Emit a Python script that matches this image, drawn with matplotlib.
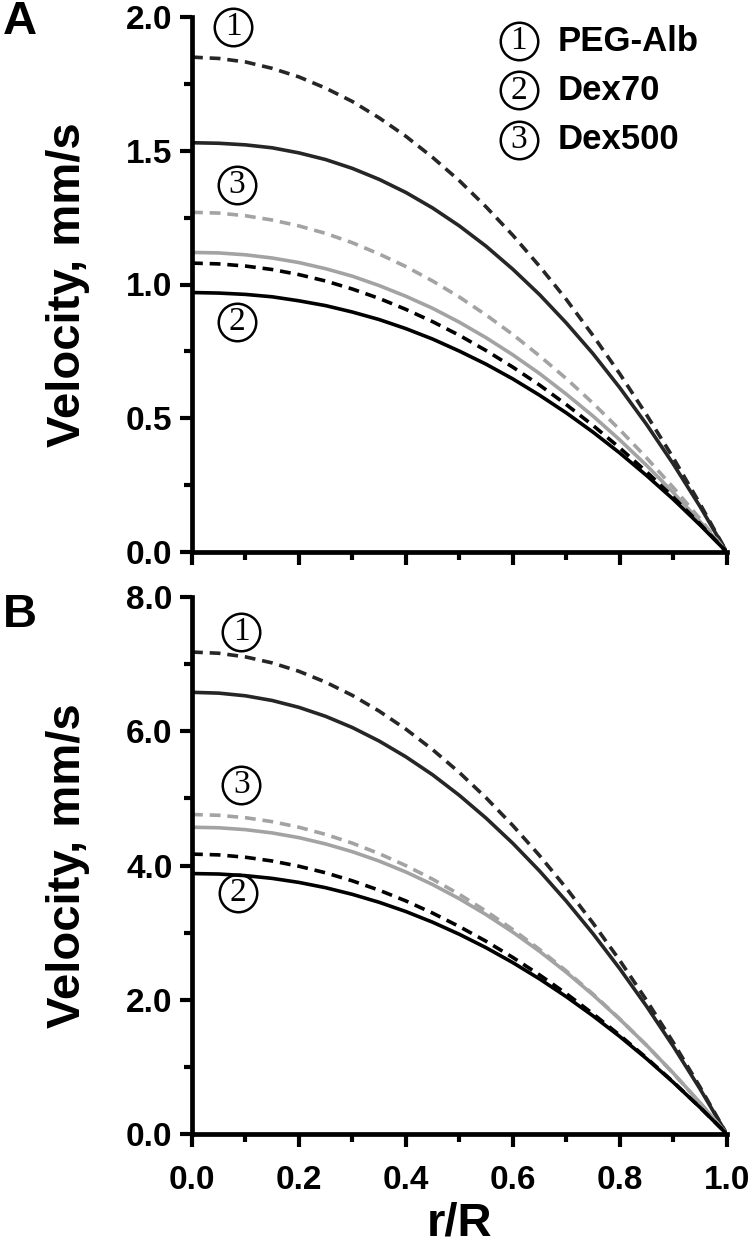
import matplotlib
matplotlib.use("Agg")
import matplotlib.pyplot as plt
from matplotlib.ticker import MultipleLocator, FormatStrFormatter

plt.rcParams['font.family'] = ['Liberation Sans', 'DejaVu Sans']
plt.rcParams['font.weight'] = 'bold'

r = [0.0, 0.05, 0.1, 0.15, 0.2, 0.25, 0.3, 0.35, 0.4, 0.45, 0.5,
     0.55, 0.6, 0.65, 0.7, 0.75, 0.8, 0.85, 0.9, 0.95, 1.0]

# panel A (mm/s)
a_peg_dash = [1.850, 1.845, 1.832, 1.808, 1.776, 1.734, 1.684, 1.623, 1.554, 1.475, 1.388,
              1.290, 1.184, 1.068, 0.944, 0.809, 0.666, 0.513, 0.352, 0.180, 0.0]
a_peg_solid = [1.530, 1.528, 1.522, 1.511, 1.492, 1.467, 1.434, 1.393, 1.344, 1.286, 1.219,
               1.143, 1.057, 0.962, 0.856, 0.741, 0.614, 0.477, 0.329, 0.170, 0.0]
a_d500_dash = [1.270, 1.267, 1.257, 1.241, 1.219, 1.191, 1.156, 1.114, 1.067, 1.013, 0.953,
               0.886, 0.813, 0.733, 0.648, 0.556, 0.457, 0.352, 0.241, 0.124, 0.0]
a_d500_solid = [1.120, 1.118, 1.111, 1.099, 1.082, 1.059, 1.031, 0.996, 0.956, 0.911, 0.859,
                0.801, 0.737, 0.667, 0.590, 0.508, 0.419, 0.324, 0.222, 0.114, 0.0]
a_d70_dash = [1.080, 1.077, 1.069, 1.056, 1.037, 1.013, 0.983, 0.948, 0.907, 0.861, 0.810,
              0.753, 0.691, 0.624, 0.551, 0.473, 0.389, 0.300, 0.205, 0.105, 0.0]
a_d70_solid = [0.970, 0.968, 0.963, 0.954, 0.939, 0.921, 0.897, 0.869, 0.835, 0.796, 0.751,
               0.702, 0.647, 0.586, 0.520, 0.448, 0.370, 0.286, 0.197, 0.101, 0.0]

# panel B (mm/s)
b_peg_dash = [7.180, 7.162, 7.108, 7.018, 6.893, 6.731, 6.534, 6.300, 6.031, 5.726, 5.385,
              5.008, 4.595, 4.147, 3.662, 3.141, 2.585, 1.992, 1.364, 0.700, 0.0]
b_peg_solid = [6.580, 6.568, 6.528, 6.458, 6.356, 6.222, 6.055, 5.854, 5.619, 5.351, 5.045,
               4.705, 4.330, 3.918, 3.468, 2.983, 2.462, 1.903, 1.306, 0.672, 0.0]
b_d500_dash = [4.760, 4.748, 4.712, 4.653, 4.570, 4.463, 4.332, 4.177, 3.998, 3.796, 3.570,
               3.320, 3.046, 2.749, 2.428, 2.083, 1.714, 1.321, 0.904, 0.464, 0.0]
b_d500_solid = [4.570, 4.562, 4.534, 4.485, 4.415, 4.321, 4.205, 4.066, 3.903, 3.716, 3.504,
                3.268, 3.007, 2.721, 2.409, 2.072, 1.710, 1.322, 0.907, 0.467, 0.0]
b_d70_dash = [4.170, 4.158, 4.123, 4.067, 3.989, 3.891, 3.771, 3.632, 3.472, 3.291, 3.090,
              2.871, 2.630, 2.370, 2.091, 1.790, 1.471, 1.133, 0.775, 0.397, 0.0]
b_d70_solid = [3.880, 3.873, 3.849, 3.808, 3.748, 3.669, 3.570, 3.452, 3.314, 3.155, 2.975,
               2.775, 2.553, 2.310, 2.045, 1.759, 1.452, 1.122, 0.770, 0.396, 0.0]

legend_nums = ['1', '2', '3']
legend_names = ['PEG-Alb', 'Dex70', 'Dex500']

DARK = '#262626'
GRAY = '#a3a3a3'
LW = 2.6

fig = plt.figure(figsize=(7.5, 12.5), dpi=100)
axA = fig.add_axes([0.256, 0.5584, 0.713, 0.428])
axB = fig.add_axes([0.256, 0.0928, 0.713, 0.4296])


def circled(ax, x, y, num, transform=None):
    # circled number like ①: hollow circle + serif digit
    tr = transform if transform is not None else ax.transData
    ax.plot([x], [y], marker='o', ms=27, mfc='none', mec='black', mew=1.8,
            transform=tr, clip_on=False)
    ax.text(x, y, num, transform=tr, fontsize=24, family='Liberation Serif',
            fontweight='normal', ha='center', va='center')


def draw(ax, curves):
    for y, c, ls in curves:
        line, = ax.plot(r, y, color=c, lw=LW, solid_capstyle='butt')
        if ls == 'dash':
            line.set_dashes((3.0, 1.9))
    ax.spines['top'].set_visible(False)
    ax.spines['right'].set_visible(False)
    for s in ('left', 'bottom'):
        ax.spines[s].set_linewidth(3.4)
    ax.set_xlim(0, 1.0)
    ax.xaxis.set_major_locator(MultipleLocator(0.2))
    ax.xaxis.set_minor_locator(MultipleLocator(0.1))
    ax.xaxis.set_major_formatter(FormatStrFormatter('%.1f'))
    ax.yaxis.set_major_formatter(FormatStrFormatter('%.1f'))
    ax.tick_params(which='major', length=9, width=3.0, labelsize=24, pad=5)
    ax.tick_params(which='minor', length=6, width=3.0)
    ax.tick_params(axis='x', which='major', pad=13)
    ax.set_ylabel('Velocity, mm/s', fontsize=34, fontweight='bold', labelpad=26)


draw(axA, [(a_peg_solid, DARK, 'solid'), (a_peg_dash, DARK, 'dash'),
           (a_d500_dash, GRAY, 'dash'), (a_d500_solid, GRAY, 'solid'),
           (a_d70_dash, 'black', 'dash'), (a_d70_solid, 'black', 'solid')])
axA.set_ylim(0, 2.0)
axA.yaxis.set_major_locator(MultipleLocator(0.5))
axA.yaxis.set_minor_locator(MultipleLocator(0.25))
axA.tick_params(axis='x', labelbottom=False)

draw(axB, [(b_peg_solid, DARK, 'solid'), (b_peg_dash, DARK, 'dash'),
           (b_d500_dash, GRAY, 'dash'), (b_d500_solid, GRAY, 'solid'),
           (b_d70_dash, 'black', 'dash'), (b_d70_solid, 'black', 'solid')])
axB.set_ylim(0, 8.0)
axB.yaxis.set_major_locator(MultipleLocator(2.0))
axB.yaxis.set_minor_locator(MultipleLocator(1.0))
axB.set_xlabel('r/R', fontsize=34, fontweight='bold', labelpad=4)

for ax in (axA, axB):
    for lab in ax.get_xticklabels() + ax.get_yticklabels():
        lab.set_fontweight('bold')

# curve numbers
for ax, pts in ((axA, [(0.077, 1.963, 0), (0.084, 1.372, 2), (0.084, 0.86, 1)]),
                (axB, [(0.092, 7.48, 0), (0.092, 5.20, 2), (0.086, 3.59, 1)])):
    for x, y, i in pts:
        circled(ax, x, y, legend_nums[i])

# legend in panel A
for i, (m, n) in enumerate(zip(legend_nums, legend_names)):
    yy = 0.955 - i * 0.092
    circled(axA, 0.611, yy, m, transform=axA.transAxes)
    axA.text(0.684, yy, n, transform=axA.transAxes, fontsize=25, fontweight='bold',
             ha='left', va='center')

fig.text(0.026, 0.982, 'A', fontsize=34, fontweight='bold', ha='center', va='center')
fig.text(0.026, 0.508, 'B', fontsize=34, fontweight='bold', ha='center', va='center')

fig.savefig('out.png', dpi=100)
